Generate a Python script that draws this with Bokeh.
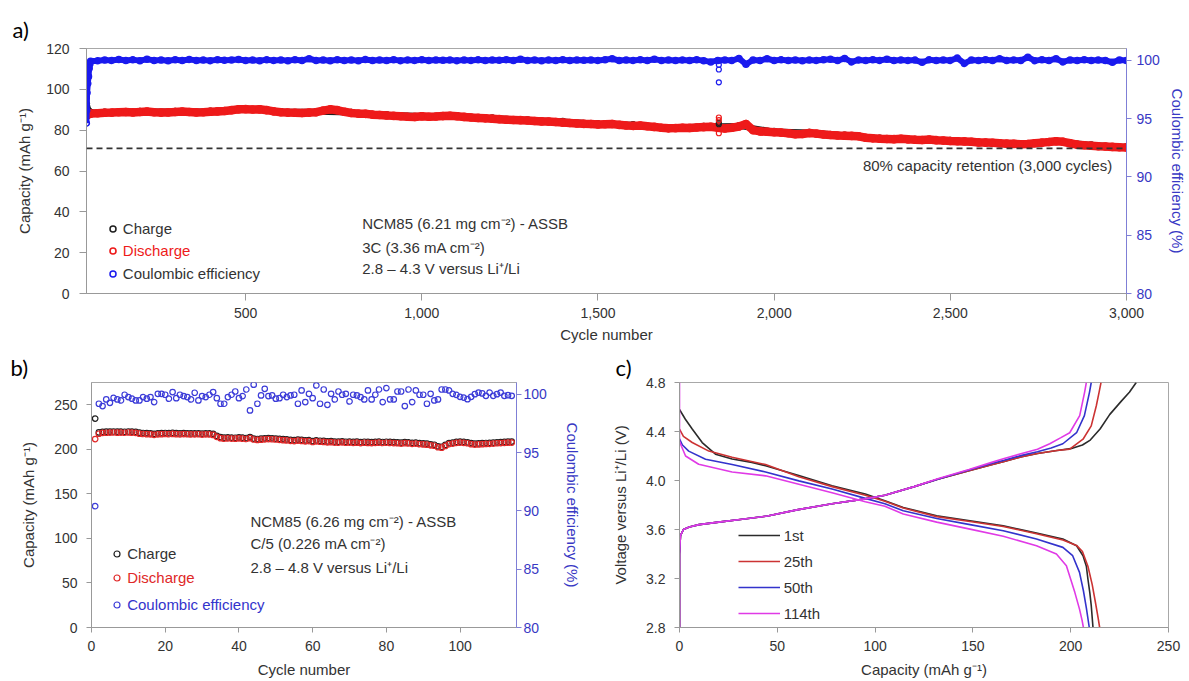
from bokeh.plotting import figure
from bokeh.models import (Range1d, LinearAxis, FixedTicker, NumeralTickFormatter,
                          Legend, LegendItem, Label, Span)
from bokeh.layouts import column, row
from bokeh.embed import file_html
from bokeh.resources import INLINE

FONT = "Liberation Sans"
TAG_FONT = "Lato"
RED = "#ee1a1a"
BLUE = "#1a1aee"
BLACK = "#1e1e1e"
GREY = "#999999"
TXT = "#333333"
CE_AXIS = "#7f7fd6"
CE_TXT = "#3838c4"

# ---------------- panel a data ----------------
a_cycles_early = [48, 49, 50, 52, 54, 56, 58, 60]
a_discharge_early = [87.0, 87.3, 87.5, 87.6, 87.8, 87.9, 88.0, 88.1]
a_charge_early = [93.0, 91.5, 90.5, 89.8, 89.3, 89.0, 88.8, 88.6]
a_ce_early = [94.6, 95.7, 97.2, 98.0, 98.6, 99.3, 99.7, 99.9]

a_cycles = list(range(80, 3001, 20))
a_discharge = [
    88.3, 88.5, 88.6, 88.8, 88.9, 88.7, 88.9, 89.1, 88.8, 88.6, 88.7, 88.9, 89.1, 88.9, 88.7, 88.8, 89.0, 89.2, 89.4,
    89.8, 90.2, 90.3, 90.1, 90.2, 89.8,
    89.2, 88.8, 88.6, 88.5, 88.4, 88.6, 88.8,
    89.6, 90.2, 89.8,
    89.0, 88.4, 88.1, 88.0, 87.6, 87.4, 87.2,
    87.0, 86.8, 86.6, 86.5, 86.8, 86.6, 86.7, 86.9, 87.1, 86.8,
    86.5, 86.2, 86.0, 85.8, 85.6, 85.4, 85.1, 85.0, 84.9, 84.7,
    84.5, 84.3, 84.2, 84.0, 83.7, 83.5, 83.3, 83.1, 83.0, 82.8,
    82.9, 83.0, 82.6, 82.3, 82.1, 82.3, 81.9, 81.6, 81.2, 80.9,
    81.0, 81.2, 81.1, 81.3, 81.5, 81.7, 81.2, 80.8, 81.2, 81.8,
    83.0, 80.0, 79.4, 79.2, 79.0, 78.8, 78.5, 78.0, 78.1, 78.6,
    78.3, 77.9, 77.6, 77.4, 77.3, 77.2, 77.0, 76.3, 76.0, 75.8,
    75.7, 75.6, 75.8, 75.5, 75.3, 75.2, 75.4, 75.1, 74.9, 74.7,
    74.6, 74.5, 74.3, 74.0, 73.9, 73.8, 73.6, 73.4, 73.3, 73.1,
    73.2, 73.6, 73.9, 74.2, 74.6, 74.3, 73.6, 72.9, 72.6, 72.4,
    72.1, 72.0, 71.8, 71.6, 71.5,
]
a_ce = [
    99.95, 100.02, 99.98, 100.05, 99.97, 100.03, 99.96, 100.08, 99.98, 100.02, 99.95, 100.04, 99.97, 100.06, 99.98, 100.01, 99.96, 100.03, 99.99,
    100.02, 100.05, 99.97, 100.01, 99.96, 100.03,
    99.98, 100.02, 99.96, 100.04, 99.98, 100.12, 99.97,
    100.01, 99.95, 100.03,
    99.98, 100.02, 99.96, 100.05, 99.97, 100.01, 99.98,
    100.03, 99.96, 100.02, 99.98, 100.04, 99.97, 100.01, 99.99, 100.02, 99.96,
    100.01, 99.98, 100.03, 99.97, 100.02, 99.99, 100.04, 99.97, 100.08, 99.98,
    100.02, 99.96, 100.01, 99.98, 100.03, 99.97, 100.02, 99.99, 100.01, 99.98,
    100.04, 100.12, 99.97, 100.02, 99.98, 100.03, 99.97, 100.08, 99.98, 100.01,
    99.97, 100.02, 99.98, 100.03, 99.96, 99.85, 99.98, 100.02, 99.97, 100.15,
    99.65, 100.02, 99.98, 100.12, 99.97, 100.03, 99.98, 100.02, 99.96, 100.01,
    99.98, 100.03, 100.08, 99.97, 100.15, 99.85, 100.02, 99.97, 100.03, 99.98,
    100.08, 99.97, 100.02, 99.98, 100.01, 99.82, 100.03, 99.97, 100.02, 99.98,
    100.18, 99.72, 100.02, 99.97, 100.03, 99.98, 100.12, 99.97, 100.02, 99.98,
    100.25, 99.96, 100.03, 99.98, 100.12, 99.85, 100.02, 99.97, 100.03, 99.98,
    100.01, 99.97, 99.82, 100.02, 99.98,
]
a_charge_cycles = list(range(100, 3001, 100))
a_charge = [88.8, 89.2, 89.1, 89.3, 90.5, 89.0, 89.0, 88.6, 87.5, 87.0,
            87.1, 85.9, 85.0, 84.3, 83.1, 82.6, 81.2, 81.8, 82.1, 79.3,
            78.9, 77.5, 76.1, 75.4, 75.0, 73.9, 73.4, 74.6, 72.7, 71.8]
a_outlier_cycle = 1843
a_discharge_outliers = [86.2, 84.9, 78.5]
a_charge_outliers = [83.6, 82.9]
a_ce_outliers = [99.6, 99.2, 98.1]
a_retention = 71.1

# ---------------- panel b data ----------------
b_cycles = list(range(1, 115))
b_discharge = [
    211.5,
    217.5, 218.5, 218.6, 218.8, 218.9, 218.7, 218.8, 218.6, 218.9, 218.7, 218.5,
    217.6, 217.2, 217.0, 216.8, 216.3, 216.8, 217.0, 217.2,
    217.0, 217.3, 217.0, 216.8, 217.1, 216.9, 216.7, 216.8, 216.9, 216.6, 216.8, 216.7, 216.2,
    214.0,
    212.5, 212.0, 212.2, 212.1, 211.9, 212.3, 212.0, 211.6, 212.5, 211.0, 210.5,
    210.8, 211.2, 211.5, 211.3, 211.0, 210.6, 210.3, 210.0,
    209.5, 209.3, 209.8, 209.4, 209.0, 209.2, 208.2, 209.0, 208.5, 208.3,
    207.9, 208.0, 207.6, 207.5, 207.8, 207.4, 207.6, 207.3, 207.5, 207.0, 207.4, 207.2, 207.0, 207.3, 207.5, 207.1, 207.4, 207.2,
    207.0, 206.8, 206.5, 206.9, 206.6, 206.2, 206.4, 205.8, 205.5, 205.2, 204.5, 204.0,
    202.3, 201.8, 203.8, 205.8, 206.5,
    207.2, 207.5, 207.3, 206.8, 205.8, 205.3, 205.5, 205.8, 206.0, 206.2, 206.5, 206.8, 207.0, 207.3, 207.5, 207.6,
]
b_charge = [
    234.5,
    219.0, 219.6, 219.8, 219.9, 220.0, 219.8, 219.9, 219.7, 220.0, 219.8, 219.5,
    218.7, 218.3, 218.1, 217.9, 217.4, 217.9, 218.1, 218.3,
    218.1, 218.4, 218.1, 217.9, 218.2, 218.0, 217.8, 217.9, 218.0, 217.7, 217.9, 217.8, 217.3,
    215.2,
    213.6, 213.1, 213.3, 213.2, 213.0, 213.4, 213.1, 212.7, 213.6, 212.1, 211.6,
    211.9, 212.3, 212.6, 212.4, 212.1, 211.7, 211.4, 211.1,
    210.6, 210.4, 210.9, 210.5, 210.1, 210.3, 209.3, 210.1, 209.6, 209.4,
    209.0, 209.1, 208.7, 208.6, 208.9, 208.5, 208.7, 208.4, 208.6, 208.1, 208.5, 208.3, 208.1, 208.4, 208.6, 208.2, 208.5, 208.3,
    208.1, 207.9, 207.6, 208.0, 207.7, 207.3, 207.5, 206.9, 206.6, 206.3, 205.6, 205.1,
    203.4, 202.9, 204.9, 206.9, 207.6,
    208.3, 208.6, 208.4, 207.9, 206.9, 206.4, 206.6, 206.9, 207.1, 207.3, 207.6, 207.9, 208.1, 208.4, 208.6, 208.7,
]
b_ce = [
    90.4,
    99.18, 98.98, 99.55, 99.26, 99.69, 99.55, 99.46, 99.95, 99.75, 99.61, 99.46, 99.46, 99.75, 99.61, 99.75,
    99.32, 100.03, 100.03, 99.95, 99.61, 100.18, 99.66, 99.95, 99.84, 99.75, 99.55, 100.12, 99.46, 99.84, 99.75,
    99.95, 100.18, 99.66, 99.18, 99.18, 99.75, 99.95, 100.23, 99.66, 99.84, 100.40, 98.61, 100.81, 99.18, 99.89,
    100.46, 99.84, 99.89, 99.61, 99.66, 99.95, 99.75, 99.89, 99.95, 99.18, 100.32, 99.32, 100.03, 99.66, 100.75,
    99.18, 100.40, 99.09, 100.03, 99.55, 100.23, 99.95, 100.03, 99.38, 99.95, 99.89, 99.75, 99.55, 100.32, 99.55,
    99.95, 100.40, 99.32, 100.52, 99.55, 99.55, 100.23, 100.23, 98.98, 100.40, 99.32, 100.32, 99.95, 99.95, 99.18,
    100.03, 99.46, 99.55, 100.40, 100.40, 100.32, 100.03,
    99.94, 99.77, 99.71, 99.57, 99.77, 100.0, 100.14, 100.06, 99.86, 100.14, 99.86, 100.0, 100.14, 99.86, 99.91, 99.86,
]

# ---------------- panel c data ----------------
c_labels = ["1st", "25th", "50th", "114th"]
c_colors = ["#2b2b2b", "#cc3333", "#3333cc", "#e03ae6"]
c_chg_cap = [
    [0, 0, 0.5, 2, 5, 10, 20, 30, 45, 60, 78, 95, 105, 120, 132, 148, 160, 166, 175, 183, 193, 200, 206, 210, 215, 220, 226, 230, 233.5],
    [0, 0, 0.5, 2, 5, 10, 20, 30, 45, 60, 78, 95, 105, 120, 132, 148, 160, 166, 175, 183, 193, 199.5, 206.3, 210.5, 213.1, 214.5, 215.5],
    [0, 0, 0.5, 2, 5, 10, 20, 30, 45, 60, 78, 95, 105, 120, 132, 148, 160, 166, 175, 183, 190, 196, 203, 207, 209.6, 210.5],
    [0, 0, 0.5, 2, 5, 10, 20, 30, 45, 60, 78, 95, 105, 120, 132, 148, 160, 166, 175, 183, 189.3, 195, 199.5, 204.6, 207.1, 208],
]
c_chg_v = [
    [2.8, 3.40, 3.55, 3.60, 3.62, 3.64, 3.66, 3.68, 3.71, 3.76, 3.81, 3.85, 3.88, 3.95, 4.01, 4.08, 4.13, 4.155, 4.195, 4.22, 4.245, 4.26, 4.29, 4.33, 4.42, 4.54, 4.65, 4.72, 4.80],
    [2.8, 3.40, 3.55, 3.60, 3.62, 3.64, 3.66, 3.68, 3.71, 3.76, 3.81, 3.85, 3.88, 3.95, 4.01, 4.08, 4.13, 4.155, 4.195, 4.22, 4.245, 4.256, 4.337, 4.446, 4.61, 4.72, 4.80],
    [2.8, 3.40, 3.55, 3.60, 3.62, 3.64, 3.66, 3.68, 3.71, 3.76, 3.81, 3.85, 3.88, 3.95, 4.01, 4.085, 4.14, 4.165, 4.205, 4.235, 4.265, 4.30, 4.39, 4.53, 4.72, 4.80],
    [2.8, 3.40, 3.55, 3.60, 3.62, 3.64, 3.66, 3.68, 3.71, 3.76, 3.81, 3.85, 3.88, 3.95, 4.015, 4.09, 4.15, 4.18, 4.22, 4.255, 4.30, 4.35, 4.39, 4.53, 4.72, 4.80],
]
c_dis_cap = [
    [0, 3, 6.5, 11.6, 18.4, 26.9, 37, 44, 61, 78, 95, 105, 114.4, 131.5, 148.5, 165.5, 182.5, 196, 203, 206.3, 208, 208.8, 209.8, 210.5, 211.4],
    [0, 2, 6.5, 15, 26.9, 44, 61, 78, 95, 105, 114.4, 131.5, 148.5, 165.5, 182.5, 196, 203, 206, 208.8, 211, 212.7, 214, 214.8],
    [0, 1.5, 4.7, 13.3, 26.9, 44, 61, 78, 95, 105, 114.4, 131.5, 148.5, 165.5, 182.5, 196, 201, 204.5, 206.5, 208, 209.5],
    [0, 0, 1, 3.1, 9.8, 26.9, 44, 61, 78, 95, 105, 114.4, 131.5, 148.5, 165.5, 182.5, 192.7, 197.8, 202.1, 204.5, 205.8, 206.5],
]
c_dis_v = [
    [4.58, 4.50, 4.42, 4.31, 4.215, 4.175, 4.148, 4.12, 4.04, 3.957, 3.89, 3.834, 3.78, 3.712, 3.671, 3.63, 3.571, 3.522, 3.467, 3.386, 3.30, 3.196, 3.08, 2.98, 2.8],
    [4.42, 4.36, 4.31, 4.24, 4.19, 4.13, 4.03, 3.95, 3.88, 3.83, 3.775, 3.705, 3.665, 3.625, 3.565, 3.515, 3.47, 3.42, 3.30, 3.15, 3.0, 2.88, 2.8],
    [4.34, 4.29, 4.24, 4.174, 4.13, 4.07, 3.997, 3.93, 3.854, 3.81, 3.753, 3.69, 3.64, 3.59, 3.522, 3.454, 3.386, 3.25, 3.10, 2.96, 2.8],
    [4.80, 4.32, 4.28, 4.20, 4.133, 4.07, 4.038, 3.97, 3.90, 3.826, 3.79, 3.726, 3.66, 3.603, 3.545, 3.467, 3.40, 3.304, 3.087, 2.95, 2.86, 2.8],
]


# ---------------- helpers ----------------
def make_fig(w, h, xr, yr, bl, br, bt, bb, tag, tag_offset, tag_standoff):
    p = figure(width=w, height=h, x_range=xr, y_range=yr, output_backend="svg",
               toolbar_location=None, tools="")
    p.min_border_left = bl
    p.min_border_right = br
    p.min_border_top = bt
    p.min_border_bottom = bb
    p.grid.visible = False
    p.outline_line_color = "#a8a8a8"
    p.outline_line_width = 1
    p.background_fill_color = "white"
    p.border_fill_color = "white"
    p.title.text = tag
    p.title.align = "left"
    p.title.offset = tag_offset
    p.title.standoff = tag_standoff
    p.title.text_font = TAG_FONT
    p.title.text_font_size = "22px"
    p.title.text_font_style = "normal"
    p.title.text_color = "#000000"
    return p


def style_axis(ax, line=GREY, txt=TXT, tick_out=5, standoff=5, label_standoff=4):
    ax.axis_line_color = line
    ax.major_tick_line_color = line
    ax.major_tick_in = 0
    ax.major_tick_out = tick_out
    ax.minor_tick_line_color = None
    ax.major_label_text_font = FONT
    ax.major_label_text_font_size = "14px"
    ax.major_label_text_color = txt
    ax.major_label_standoff = standoff
    ax.axis_label_text_font = FONT
    ax.axis_label_text_font_size = "15px"
    ax.axis_label_text_font_style = "normal"
    ax.axis_label_text_color = txt
    ax.axis_label_standoff = label_standoff


def legend_item(p, label, rends, x, y, color, gw=15, gh=15, standoff=3, spacing=0):
    items = [LegendItem(label=l, renderers=[r]) for l, r in zip(label, rends)]
    leg = Legend(items=items, location=(x, y), orientation="vertical",
                 padding=0, margin=0, spacing=spacing,
                 glyph_width=gw, glyph_height=gh, label_height=gh, label_width=10,
                 label_standoff=standoff, label_text_font=FONT,
                 label_text_font_size="15px", label_text_color=color,
                 background_fill_alpha=0, border_line_alpha=0)
    p.add_layout(leg)


def text(p, x, y, s, color=TXT, align="left", size="15px", font=FONT, baseline="middle"):
    p.add_layout(Label(x=x, y=y, x_units="screen", y_units="screen", text=s,
                       text_font=font, text_font_size=size, text_color=color,
                       text_align=align, text_baseline=baseline))


# ---------------- panel a ----------------
pa = make_fig(1188, 345, Range1d(48.3, 3000), Range1d(0, 120), 86, 58, 48, 52,
              "a)", -74, 12)
pa.extra_y_ranges = {"ce": Range1d(80, 101)}
pa.xaxis.ticker = FixedTicker(ticks=[500, 1000, 1500, 2000, 2500, 3000])
pa.xaxis.formatter = NumeralTickFormatter(format="0,0")
pa.xaxis.axis_label = "Cycle number"
pa.yaxis.ticker = FixedTicker(ticks=[0, 20, 40, 60, 80, 100, 120])
pa.yaxis.axis_label = "Capacity (mAh g\u207b\u00b9)"
style_axis(pa.xaxis[0], tick_out=7, standoff=7, label_standoff=5)
style_axis(pa.yaxis[0], tick_out=7, standoff=10, label_standoff=10)
ax_ce_a = LinearAxis(y_range_name="ce", ticker=FixedTicker(ticks=[80, 85, 90, 95, 100]),
                     axis_label="Coulombic efficiency (%)")
style_axis(ax_ce_a, line=CE_AXIS, txt=CE_TXT, tick_out=5, standoff=5, label_standoff=6)
pa.add_layout(ax_ce_a, "right")

pa.add_layout(Span(location=a_retention, dimension="width", line_color="#333333",
                   line_dash="6 4", line_width=1.6))

chg_x = a_cycles_early + a_charge_cycles
chg_y = a_charge_early + a_charge
pa.line(chg_x, chg_y, line_color=BLACK, line_width=6)
r_chg_a = pa.scatter(chg_x, chg_y, marker="circle", size=6, fill_color=None,
                     line_color=BLACK, line_width=1.5)
dis_x = a_cycles_early + a_cycles
dis_y = a_discharge_early + a_discharge
pa.line(dis_x, dis_y, line_color=RED, line_width=8.5, line_join="round")
r_dis_a = pa.scatter(dis_x, dis_y, marker="circle", size=7, fill_color=None,
                     line_color=RED, line_width=1.6)
ce_y = a_ce_early + a_ce
pa.line(dis_x, ce_y, line_color=BLUE, line_width=6, line_join="round", y_range_name="ce")
r_ce_a = pa.scatter(dis_x, ce_y, marker="circle", size=6, fill_color=None,
                    line_color=BLUE, line_width=1.5, y_range_name="ce")
pa.scatter([a_outlier_cycle] * len(a_charge_outliers), a_charge_outliers, marker="circle",
           size=5, fill_color=None, line_color=BLACK, line_width=1.2)
pa.scatter([a_outlier_cycle] * len(a_discharge_outliers), a_discharge_outliers, marker="circle",
           size=5, fill_color=None, line_color=RED, line_width=1.2)
pa.scatter([a_outlier_cycle] * len(a_ce_outliers), a_ce_outliers, marker="circle",
           size=5, fill_color=None, line_color=BLUE, line_width=1.2, y_range_name="ce")

legend_item(pa, ["Charge"], [r_chg_a], 18.8, 56.2, TXT)
legend_item(pa, ["Discharge"], [r_dis_a], 18.8, 33.8, RED)
legend_item(pa, ["Coulombic efficiency"], [r_ce_a], 18.8, 11.5, TXT)

text(pa, 275.7, 70.3, "NCM85 (6.21 mg cm\u207b\u00b2) - ASSB")
text(pa, 275.7, 46.3, "3C (3.36 mA cm\u207b\u00b2)")
text(pa, 275.7, 24.7, "2.8 \u2013 4.3 V versus Li\u207a/Li")
text(pa, 1025.7, 128, "80% capacity retention (3,000 cycles)", align="right")

# ---------------- panel b ----------------
pb = make_fig(583, 335, Range1d(0, 115.3), Range1d(0, 275), 91, 62, 37, 53,
              "b)", -81, 3)
pb.extra_y_ranges = {"ce": Range1d(80, 101)}
pb.xaxis.ticker = FixedTicker(ticks=[0, 20, 40, 60, 80, 100])
pb.xaxis.axis_label = "Cycle number"
pb.yaxis.ticker = FixedTicker(ticks=[0, 50, 100, 150, 200, 250])
pb.yaxis.axis_label = "Capacity (mAh g\u207b\u00b9)"
style_axis(pb.xaxis[0], tick_out=5, standoff=8, label_standoff=7)
style_axis(pb.yaxis[0], tick_out=5, standoff=9, label_standoff=14)
ax_ce_b = LinearAxis(y_range_name="ce", ticker=FixedTicker(ticks=[80, 85, 90, 95, 100]),
                     axis_label="Coulombic efficiency (%)")
style_axis(ax_ce_b, line=CE_AXIS, txt=CE_TXT, tick_out=5, standoff=2, label_standoff=14)
pb.add_layout(ax_ce_b, "right")

r_chg_b = pb.scatter(b_cycles, b_charge, marker="circle", size=5.5, fill_color=None,
                     line_color=BLACK, line_width=1.2)
r_dis_b = pb.scatter(b_cycles, b_discharge, marker="circle", size=5.5, fill_color=None,
                     line_color="#e02828", line_width=1.2)
r_ce_b = pb.scatter(b_cycles, b_ce, marker="circle", size=5.5, fill_color=None,
                    line_color="#3c3cd8", line_width=1.2, y_range_name="ce")

legend_item(pb, ["Charge"], [r_chg_b], 18.2, 65.5, TXT)
legend_item(pb, ["Discharge"], [r_dis_b], 18.2, 41.2, "#e02828")
legend_item(pb, ["Coulombic efficiency"], [r_ce_b], 18.2, 13.8, "#3333cc")

text(pb, 158.9, 106.3, "NCM85 (6.26 mg cm\u207b\u00b2) - ASSB")
text(pb, 158.9, 83.7, "C/5 (0.226 mA cm\u207b\u00b2)")
text(pb, 158.9, 59.7, "2.8 \u2013 4.8 V versus Li\u207a/Li")

# ---------------- panel c ----------------
pc = make_fig(605, 335, Range1d(0, 250), Range1d(2.8, 4.8), 96, 20, 37, 53,
              "c)", -64, 3)
pc.xaxis.ticker = FixedTicker(ticks=[0, 50, 100, 150, 200, 250])
pc.xaxis.axis_label = "Capacity (mAh g\u207b\u00b9)"
pc.yaxis.ticker = FixedTicker(ticks=[2.8, 3.2, 3.6, 4.0, 4.4, 4.8])
pc.yaxis.formatter = NumeralTickFormatter(format="0.0")
pc.yaxis.axis_label = "Voltage versus Li\u207a/Li (V)"
style_axis(pc.xaxis[0], tick_out=5, standoff=8, label_standoff=7)
style_axis(pc.yaxis[0], tick_out=5, standoff=9, label_standoff=14)

c_rends = []
for i in range(4):
    r = pc.line(c_chg_cap[i], c_chg_v[i], line_color=c_colors[i], line_width=1.6)
    pc.line(c_dis_cap[i], c_dis_v[i], line_color=c_colors[i], line_width=1.6)
    c_rends.append(r)

legend_item(pc, c_labels, c_rends, 58.7, 4, TXT, gw=42, gh=20, standoff=4, spacing=6)

layout = column(pa, row(pb, pc))
open("out.html", "w").write(file_html(layout, INLINE))
